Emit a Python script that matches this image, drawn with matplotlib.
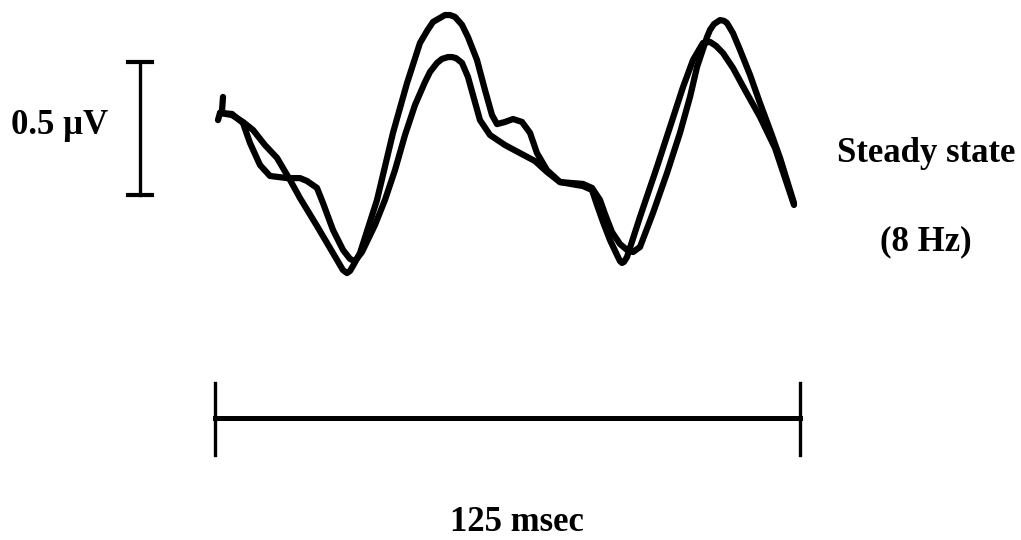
import matplotlib
matplotlib.use("Agg")
import matplotlib.pyplot as plt

# ---- data (time in msec, amplitude in microvolts) ----
t_a = [0.64, 1.07, 3.63, 5.98, 8.12, 10.68, 13.25, 16.03, 18.16, 21.79, 25.21, 26.71, 27.35,
       28.21, 28.85, 29.49, 30.98, 34.62, 38.03, 41.03, 43.80, 45.30, 46.58, 49.15, 50.21,
       51.28, 52.78, 54.06, 55.98, 57.69, 59.19, 60.26, 61.97, 63.68, 65.60, 67.31, 68.80,
       70.94, 73.72, 78.63, 80.56, 82.26, 83.33, 84.83, 86.54, 88.03, 89.32, 90.81, 93.59,
       96.58, 99.36, 101.50, 103.00, 105.13, 105.77, 106.62, 107.91, 108.76, 109.40, 110.68,
       112.18, 114.32, 116.45, 118.59, 120.73, 123.72]
v_a = [0.150, 0.177, 0.169, 0.143, 0.113, 0.056, 0.008, -0.075, -0.143, -0.248, -0.350, -0.395,
       -0.414, -0.425, -0.417, -0.398, -0.350, -0.150, 0.102, 0.289, 0.440, 0.485, 0.519, 0.545,
       0.545, 0.538, 0.508, 0.462, 0.376, 0.263, 0.169, 0.135, 0.143, 0.154, 0.143, 0.102,
       0.026, -0.038, -0.083, -0.090, -0.105, -0.150, -0.203, -0.271, -0.316, -0.338, -0.346,
       -0.327, -0.199, -0.049, 0.102, 0.237, 0.350, 0.462, 0.489, 0.511, 0.526, 0.523, 0.515,
       0.477, 0.414, 0.320, 0.214, 0.113, 0.008, -0.162]

t_b = [1.71, 1.50, 1.07, 3.63, 5.98, 7.48, 9.62, 11.75, 15.38, 18.16, 19.66, 21.79, 23.08,
       25.21, 27.35, 28.85, 29.91, 31.41, 34.19, 36.32, 38.46, 40.60, 42.74, 44.87, 45.94,
       47.44, 48.50, 49.79, 50.64, 51.50, 52.78, 54.06, 55.13, 56.62, 58.76, 61.97, 65.17,
       68.38, 70.94, 73.72, 78.63, 80.56, 81.62, 82.91, 84.40, 85.90, 86.54, 86.97, 87.39,
       88.03, 90.81, 94.44, 97.22, 100.00, 102.14, 104.27, 105.77, 107.05, 108.55, 110.68,
       113.25, 116.45, 119.66, 123.72]
v_b = [0.237, 0.185, 0.177, 0.173, 0.139, 0.064, -0.019, -0.060, -0.068, -0.068, -0.079,
       -0.105, -0.162, -0.263, -0.338, -0.372, -0.380, -0.346, -0.244, -0.150, -0.038, 0.094,
       0.207, 0.293, 0.331, 0.365, 0.380, 0.387, 0.387, 0.383, 0.365, 0.312, 0.244, 0.150,
       0.094, 0.056, 0.026, -0.004, -0.045, -0.083, -0.098, -0.113, -0.169, -0.233, -0.301,
       -0.357, -0.380, -0.387, -0.383, -0.365, -0.214, -0.026, 0.124, 0.274, 0.376, 0.440,
       0.444, 0.429, 0.402, 0.346, 0.263, 0.162, 0.045, -0.169]

scale_uv = 0.5          # amplitude calibration bar
scale_ms = 125          # time calibration bar
label_uv = "0.5 \u03bcV"
label_ms = "125 msec"
label_cond = "Steady state\n(8 Hz)"

# ---- figure ----
W, H = 1021, 540
fig = plt.figure(figsize=(W / 100, H / 100), dpi=100)
ax = fig.add_axes([0, 0, 1, 1])
px_per_ms = 4.68
px_per_uv = 266.0
x0_px, y0_px = 215, 160
ax.set_xlim(-x0_px / px_per_ms, (W - x0_px) / px_per_ms)
ax.set_ylim((y0_px - H) / px_per_uv, y0_px / px_per_uv)
ax.axis("off")

lw = 4.5
ax.plot(t_a, v_a, color="black", lw=lw, solid_joinstyle="round", solid_capstyle="round")
ax.plot(t_b, v_b, color="black", lw=lw, solid_joinstyle="round", solid_capstyle="round")

# amplitude scale bar
sb_x = -16.0
sb_y0 = -0.1316
ax.plot([sb_x, sb_x], [sb_y0, sb_y0 + scale_uv], color="black", lw=2.4)
for yy in (sb_y0, sb_y0 + scale_uv):
    ax.plot([sb_x - 2.6, sb_x + 2.6], [yy, yy], color="black", lw=3.0)

# time scale bar
tb_y = -0.970
ax.plot([0, scale_ms], [tb_y, tb_y], color="black", lw=3.6)
for xx in (0, scale_ms):
    ax.plot([xx, xx], [tb_y + 0.13, tb_y - 0.14], color="black", lw=2.4)

font = dict(family="Liberation Serif", fontweight="bold", fontsize=25, color="black")

def px(xp, yp):
    return ((xp - x0_px) / px_per_ms, (y0_px - yp) / px_per_uv)

ax.text(*px(60, 134), label_uv, ha="center", va="baseline", **font)
ax.text(*px(517, 531), label_ms, ha="center", va="baseline", **font)
line1, line2 = label_cond.split("\n")
ax.text(*px(926, 162), line1, ha="center", va="baseline", **font)
ax.text(*px(926, 250), line2, ha="center", va="baseline", **font)

fig.savefig("out.png", dpi=100, facecolor="white")
